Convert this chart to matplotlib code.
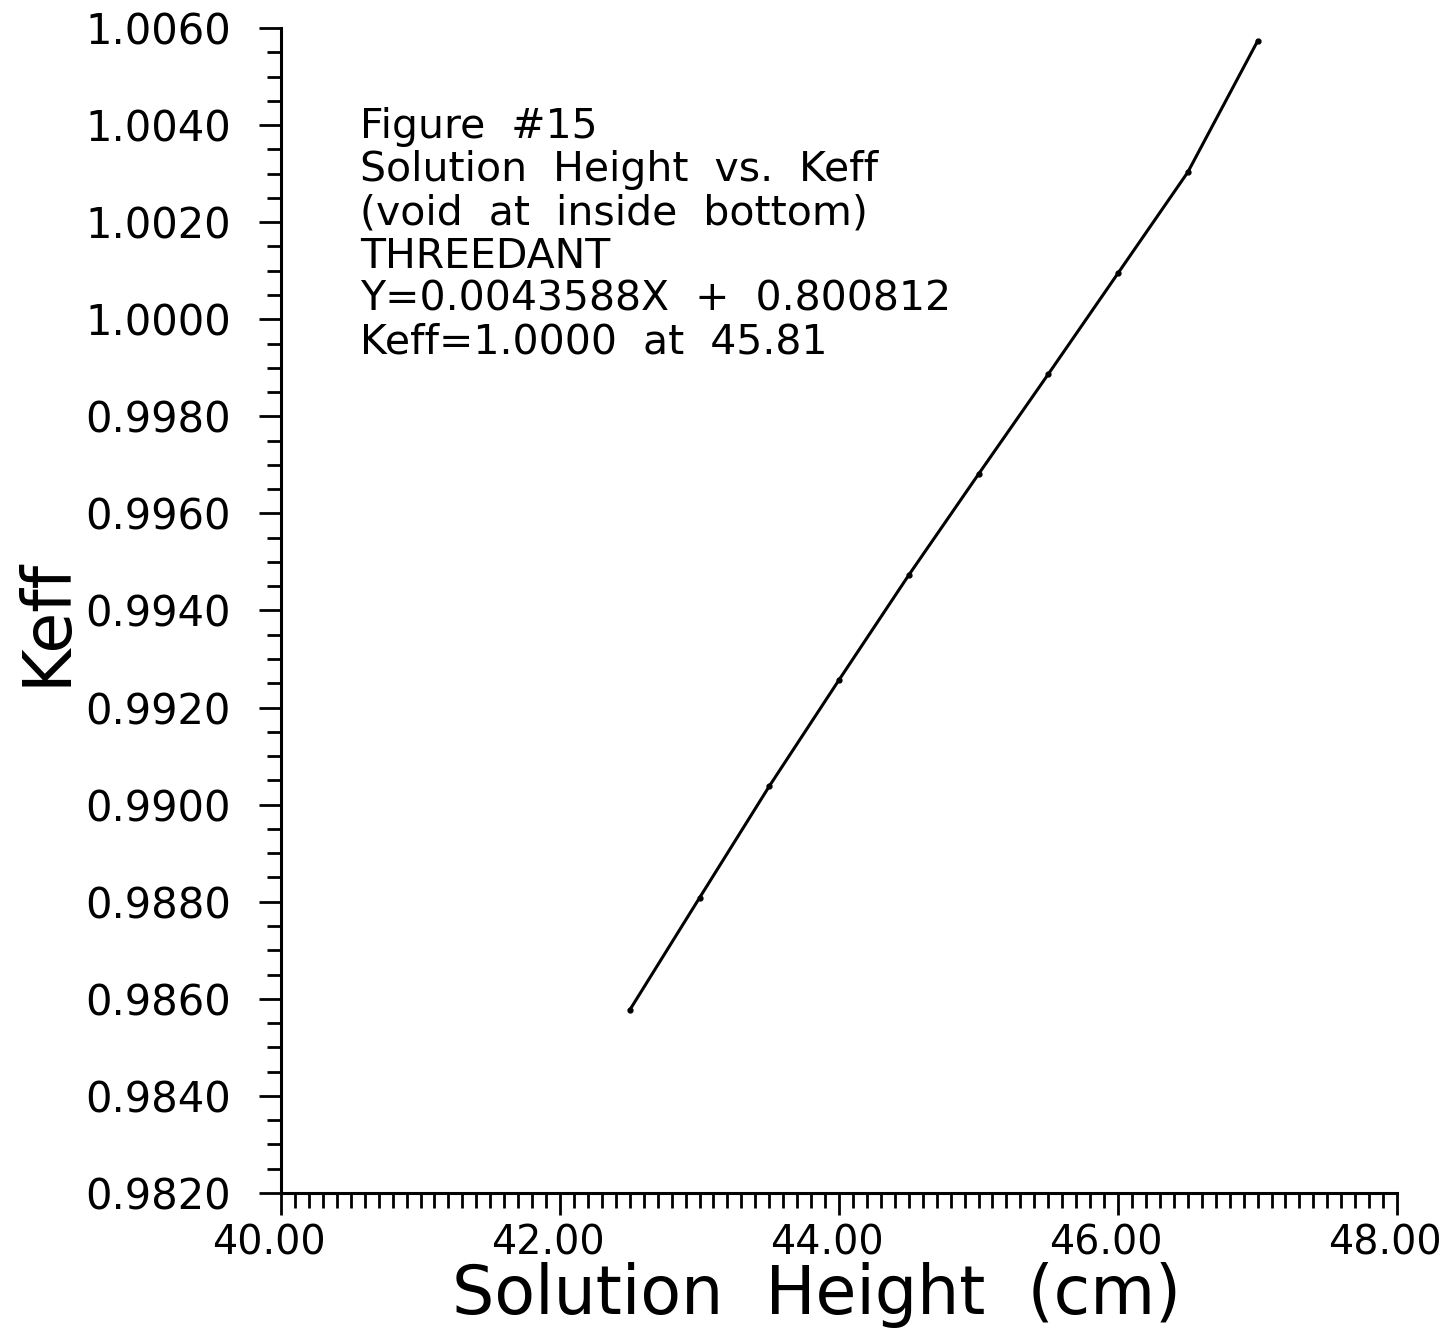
#!/usr/bin/env python3
# Keff vs solution height (THREEDANT, void at inside bottom)
import numpy as np
import matplotlib
matplotlib.use("Agg")
from matplotlib import pyplot as plt
from matplotlib.ticker import MultipleLocator, FormatStrFormatter
from matplotlib.transforms import ScaledTranslation

# data
height = [42.5, 43.0, 43.5, 44.0, 44.5, 45.0, 45.5, 46.0, 46.5, 47.0]
keff = [0.98577, 0.98808, 0.99038, 0.99257, 0.99473,
        0.99681, 0.99887, 1.00095, 1.00303, 1.00573]

x_ticks = [40.0, 42.0, 44.0, 46.0, 48.0]
y_ticks = [0.9820, 0.9840, 0.9860, 0.9880, 0.9900, 0.9920, 0.9940,
           0.9960, 0.9980, 1.0000, 1.0020, 1.0040, 1.0060]

notes = ["Figure  #15",
         "Solution  Height  vs.  Keff",
         "(void  at  inside  bottom)",
         "THREEDANT",
         "Y=0.0043588X  +  0.800812",
         "Keff=1.0000  at  45.81"]

plt.rcParams['font.family'] = ['DejaVu Sans']

fig = plt.figure(figsize=(14.53, 13.41), dpi=100)
ax = fig.add_axes([0.1934, 0.1104, 0.7681, 0.8687])

ax.plot(height, keff, '-', color='black', lw=2.2)
ax.plot(height, keff, 'o', color='black', ms=3.5)

ax.set_xlim(40, 48)
ax.set_ylim(0.9820, 1.0060)

ax.spines['top'].set_visible(False)
ax.spines['right'].set_visible(False)
for s in ('left', 'bottom'):
    ax.spines[s].set_linewidth(2.2)

ax.set_xticks(x_ticks)
ax.set_yticks(y_ticks)
ax.xaxis.set_minor_locator(MultipleLocator(0.1))
ax.yaxis.set_minor_locator(MultipleLocator(0.0005))
ax.xaxis.set_major_formatter(FormatStrFormatter('%.2f'))
ax.yaxis.set_major_formatter(FormatStrFormatter('%.4f'))

ax.tick_params(axis='x', which='major', direction='out', length=16, width=2,
               labelsize=28.5, pad=6)
ax.tick_params(axis='x', which='minor', direction='out', length=11, width=2)
ax.tick_params(axis='y', which='major', direction='out', length=16, width=2,
               labelsize=30, pad=20)
ax.tick_params(axis='y', which='minor', direction='out', length=10, width=2)

# x labels sit a little left of their ticks in the original
shift = ScaledTranslation(-0.12, 0, fig.dpi_scale_trans)
for lab in ax.get_xticklabels():
    lab.set_transform(lab.get_transform() + shift)

fig.text(0.562, 0.034, "Solution  Height  (cm)", fontsize=48,
         ha='center', va='center')
fig.text(0.032, 0.536, "Keff", fontsize=48, rotation=90,
         ha='center', va='center')

ax.text(0.0708, 0.932, "\n".join(notes), transform=ax.transAxes,
        fontsize=29.5, ha='left', va='top', linespacing=1.1)

plt.savefig("out.png", dpi=100, facecolor='white')
